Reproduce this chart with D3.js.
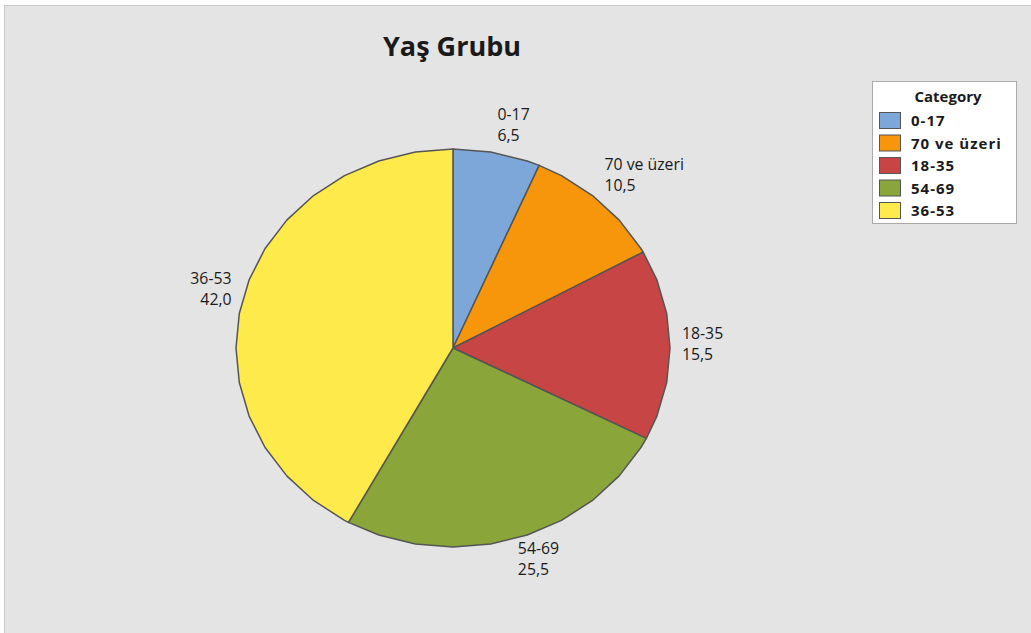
<!DOCTYPE html>
<html>
<head>
<meta charset="utf-8">
<script src="https://cdn.jsdelivr.net/npm/d3@7"></script>
<style>
  body { margin: 0; background: #fff; }
  text { font-family: "Open Sans", "Noto Sans", sans-serif; fill: #1a1a1a; }
</style>
</head>
<body>
<div id="chart"></div>
<script>
const width = 1031;
const height = 633;

// data, clockwise from 12 o'clock
const categories = ["0-17", "70 ve üzeri", "18-35", "54-69", "36-53"];
const percents = [6.5, 10.5, 15.5, 25.5, 42.0];
const valueLabels = ["6,5", "10,5", "15,5", "25,5", "42,0"];
const colors = ["#7ea7d9", "#f7960b", "#c74545", "#8aa53a", "#ffea4b"];

const cx = 453, cy = 348;
const rx = 217, ry = 199;
const step = Math.PI / 18; // Minitab draws the pie as a 36-gon

let svg = d3.select("#chart").append("svg")
    .attr("width", width)
    .attr("height", height);

svg.append("rect")
    .attr("x", 4.5).attr("y", 5.5)
    .attr("width", width).attr("height", height)
    .attr("fill", "#e4e4e4")
    .attr("stroke", "#c9c9c9");

svg.append("text")
    .attr("x", 452).attr("y", 56)
    .attr("text-anchor", "middle")
    .style("font-size", "27px")
    .style("font-weight", "bold")
    .text("Yaş Grubu");

let data = categories.map((c, i) => ({ cat: c, value: percents[i], label: valueLabels[i], color: colors[i] }));

let pie = d3.pie().sort(null).value(d => d.value);
let arcs = pie(data);

let xScale = d3.scaleLinear().domain([-1, 1]).range([cx - rx, cx + rx]);
let yScale = d3.scaleLinear().domain([-1, 1]).range([cy - ry, cy + ry]);
let pt = a => [xScale(Math.sin(a)), yScale(-Math.cos(a))];

function slicePath(d) {
    let pts = [[cx, cy], pt(d.startAngle)];
    let k = Math.floor(d.startAngle / step) + 1;
    for (; k * step < d.endAngle - 1e-6; k++) pts.push(pt(k * step));
    pts.push(pt(d.endAngle));
    return "M" + pts.join("L") + "Z";
}

let g = svg.append("g");

g.selectAll("path")
    .data(arcs)
    .join("path")
        .attr("d", slicePath)
        .attr("fill", d => d.data.color)
        .attr("stroke", "#555")
        .attr("stroke-width", 1.5)
        .attr("stroke-linejoin", "round");

// slice labels
let labels = svg.append("g");
arcs.forEach(d => {
    let m = (d.startAngle + d.endAngle) / 2;
    let s = Math.sin(m), c = Math.cos(m);
    let [ex, ey] = pt(m);
    let anchor = s > 0.05 ? "start" : (s < -0.05 ? "end" : "middle");
    let lx = ex + Math.sign(s) * 12 * s * s;
    let centre = ey - (c > 0 ? 8 * c : 1 * c) - 20 * Math.max(-1, Math.min(1, c * 1.5));
    let top = centre - 20;
    let t = labels.append("text")
        .attr("text-anchor", anchor)
        .style("font-size", "15.8px");
    t.append("tspan").attr("x", lx).attr("y", top + 15).text(d.data.cat);
    t.append("tspan").attr("x", lx).attr("y", top + 36).text(d.data.label);
});

// legend
let legend = svg.append("g");
legend.append("rect")
    .attr("x", 872.5).attr("y", 81.5)
    .attr("width", 144).attr("height", 142)
    .attr("fill", "#fff")
    .attr("stroke", "#aaa");
legend.append("text")
    .attr("x", 948).attr("y", 102)
    .attr("text-anchor", "middle")
    .style("font-size", "15px")
    .style("font-weight", "bold")
    .text("Category");

let rows = legend.selectAll("g.row")
    .data(data)
    .join("g")
        .attr("class", "row")
        .attr("transform", (d, i) => `translate(0, ${112.5 + i * 22.5})`);
rows.append("rect")
    .attr("x", 879.5).attr("y", 0)
    .attr("width", 21).attr("height", 16)
    .attr("fill", d => d.color)
    .attr("stroke", "#555");
rows.append("text")
    .attr("x", 911).attr("y", 13.5)
    .style("font-size", "15px")
    .style("font-weight", "bold")
    .style("letter-spacing", "1px")
    .text(d => d.cat);
</script>
</body>
</html>
